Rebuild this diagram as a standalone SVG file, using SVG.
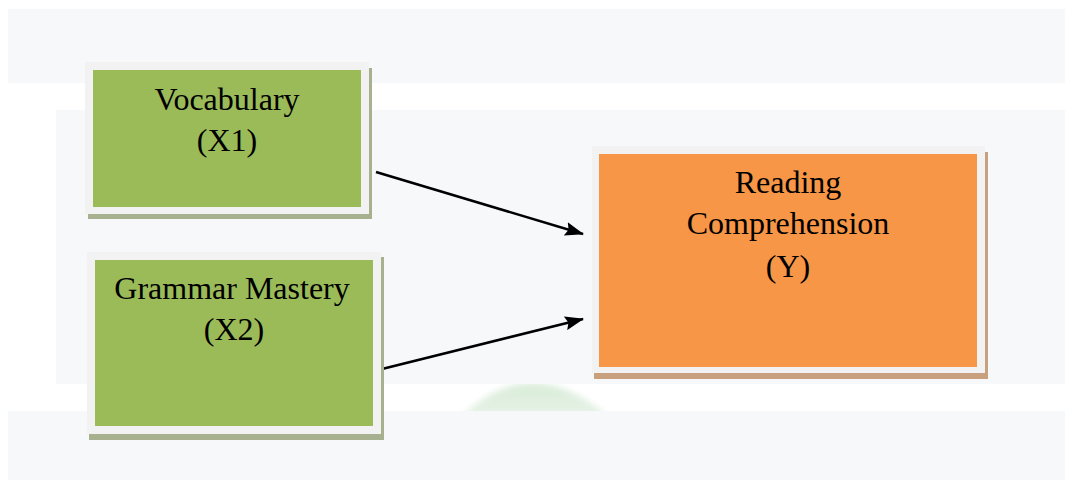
<svg xmlns="http://www.w3.org/2000/svg" width="1065" height="480" viewBox="0 0 1065 480">
  <defs>
    <style>
      .band { fill: #f7f8fa; }
      .frame { fill: #f2f2f2; }
      .green { fill: #9bbb59; }
      .orange { fill: #f79646; }
      .gshadow { fill: #a7b190; }
      .oshadow { fill: #c9a07e; }
      .label { font-family: "Liberation Serif", "Times New Roman", serif; font-size: 32px; fill: #000; text-anchor: middle; }
      .conn { stroke: #000; stroke-width: 2.5; fill: none; }
    </style>
    <marker id="arrow" viewBox="0 0 19 14" refX="18" refY="7" markerWidth="19" markerHeight="14" markerUnits="userSpaceOnUse" orient="auto">
      <path d="M0,0 L19,7 L0,14 L3,7 z" fill="#000"/>
    </marker>
    <linearGradient id="wm" x1="0" y1="0" x2="0" y2="1">
      <stop offset="0" stop-color="#d3e9d3"/>
      <stop offset="1" stop-color="#e2f0e2"/>
    </linearGradient>
    <filter id="soft" x="-20%" y="-50%" width="140%" height="200%">
      <feGaussianBlur stdDeviation="3"/>
    </filter>
  </defs>

  <rect width="1065" height="480" fill="#ffffff"/>
  <g id="background">
    <path d="M462,416 Q530,350 608,416 Z" fill="url(#wm)" filter="url(#soft)" opacity="0.85"/>
    <rect class="band" x="8" y="9" width="1057" height="74"/>
    <rect class="band" x="56" y="110" width="1009" height="274"/>
    <rect class="band" x="8" y="411" width="1057" height="69"/>
  </g>

  <g id="connectors">
    <line class="conn" x1="376" y1="172" x2="583" y2="234" marker-end="url(#arrow)"/>
    <line class="conn" x1="382" y1="369" x2="583" y2="319" marker-end="url(#arrow)"/>
  </g>

  <g id="vocabulary">
    <rect class="gshadow" x="88" y="68" width="284" height="151"/>
    <rect class="frame" x="85" y="62" width="284" height="152"/>
    <rect class="green" x="93" y="70" width="268" height="137"/>
    <text class="label" x="227" y="110">Vocabulary</text>
    <text class="label" x="227" y="151">(X1)</text>
  </g>

  <g id="grammar">
    <rect class="gshadow" x="89" y="257" width="295" height="183"/>
    <rect class="frame" x="87" y="252" width="294" height="182"/>
    <rect class="green" x="95" y="260" width="278" height="166"/>
    <text class="label" x="232" y="299">Grammar Mastery</text>
    <text class="label" x="234" y="340">(X2)</text>
  </g>

  <g id="reading">
    <rect class="oshadow" x="594" y="152" width="394" height="227"/>
    <rect class="frame" x="592" y="146" width="393" height="227"/>
    <rect class="orange" x="599" y="154" width="378" height="213"/>
    <text class="label" x="788" y="193">Reading</text>
    <text class="label" x="788" y="234">Comprehension</text>
    <text class="label" x="788" y="277">(Y)</text>
  </g>
</svg>
